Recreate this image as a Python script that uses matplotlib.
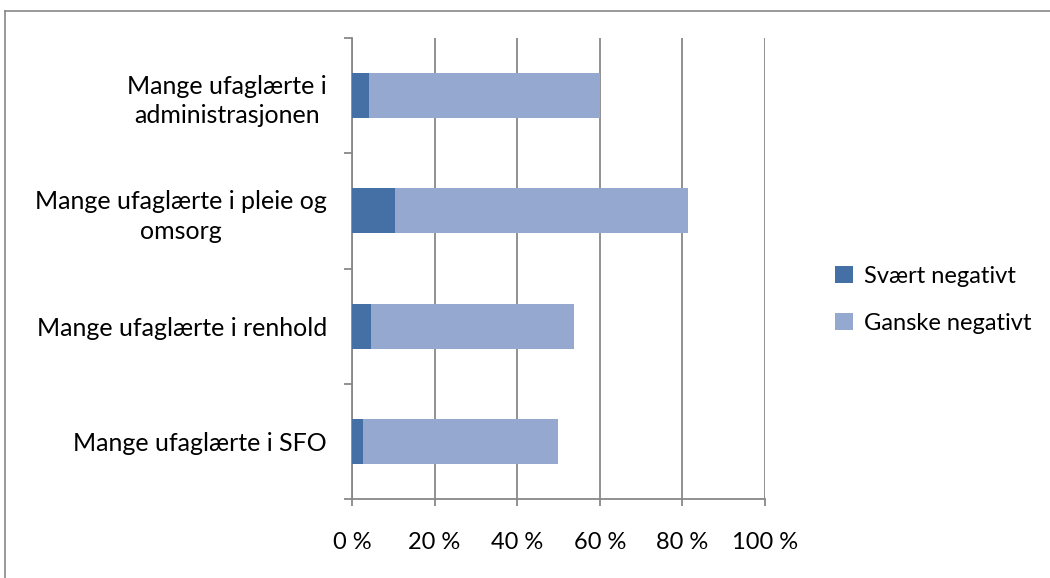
import matplotlib

matplotlib.use("Agg")
import matplotlib.pyplot as plt
from matplotlib.lines import Line2D
from matplotlib.patches import Patch

# Share of respondents per statement (percent), listed bottom to top
categories = [
    "Mange ufaglærte i SFO",
    "Mange ufaglærte i renhold",
    "Mange ufaglærte i pleie og\nomsorg",
    "Mange ufaglærte i\nadministrasjonen",
]
svaert_negativt = [2.6, 4.5, 10.4, 4.0]
ganske_negativt = [47.2, 49.2, 70.9, 56.0]
series_labels = ["Svært negativt", "Ganske negativt"]
x_ticks = [0, 20, 40, 60, 80, 100]

dark = "#4470A5"
light = "#95A9D0"
grid_col = "#888888"

plt.rcParams["font.family"] = ["Lato", "DejaVu Sans"]
fs_cat, fs_tick, fs_leg = 18, 17, 17

fig = plt.figure(figsize=(10.5, 5.78), dpi=100)
ax = fig.add_axes((352 / 1050, 79 / 578, 413 / 1050, 461 / 578))

ypos = [i + 0.5 for i in range(len(categories))]
ax.barh(ypos, svaert_negativt, height=0.39, color=dark, lw=0, zorder=3)
ax.barh(ypos, ganske_negativt, left=svaert_negativt, height=0.39, color=light, lw=0, zorder=3)

ax.set_xlim(0, 100)
ax.set_ylim(0, len(categories))
ax.set_xticks(x_ticks)
ax.set_xticklabels([f"{v} %" for v in x_ticks], fontsize=fs_tick)
ax.set_yticks(range(len(categories) + 1))
ax.set_yticklabels([])
ax.set_yticks(ypos, minor=True)
ax.set_yticklabels(categories, minor=True, fontsize=fs_cat, multialignment="center", linespacing=1.35)
ax.tick_params(axis="y", which="minor", length=0, pad=18)
ax.tick_params(axis="y", which="major", length=6, width=1.3, color=grid_col)
ax.tick_params(axis="x", length=5, width=1.3, color=grid_col, pad=19)

ax.set_axisbelow(True)
ax.grid(axis="x", color=grid_col, lw=1.3, zorder=0)
for side in ("top", "right"):
    ax.spines[side].set_visible(False)
for side in ("left", "bottom"):
    ax.spines[side].set_color(grid_col)
    ax.spines[side].set_linewidth(1.3)

handles = [
    Patch(facecolor=dark, lw=0, label=series_labels[0]),
    Patch(facecolor=light, lw=0, label=series_labels[1]),
]
fig.legend(
    handles=handles,
    loc="center left",
    bbox_to_anchor=(814 / 1050, 1 - 300 / 578),
    frameon=False,
    fontsize=fs_leg,
    handlelength=0.75,
    handleheight=0.75,
    handletextpad=0.45,
    labelspacing=1.1,
)

# chart-area border (top and left edges visible)
fig.add_artist(Line2D([4.5 / 1050, 4.5 / 1050], [0, 1 - 10.5 / 578], color=grid_col, lw=1.2))
fig.add_artist(Line2D([4.5 / 1050, 1], [1 - 10.5 / 578, 1 - 10.5 / 578], color=grid_col, lw=1.2))

fig.savefig("out.png", dpi=100)
